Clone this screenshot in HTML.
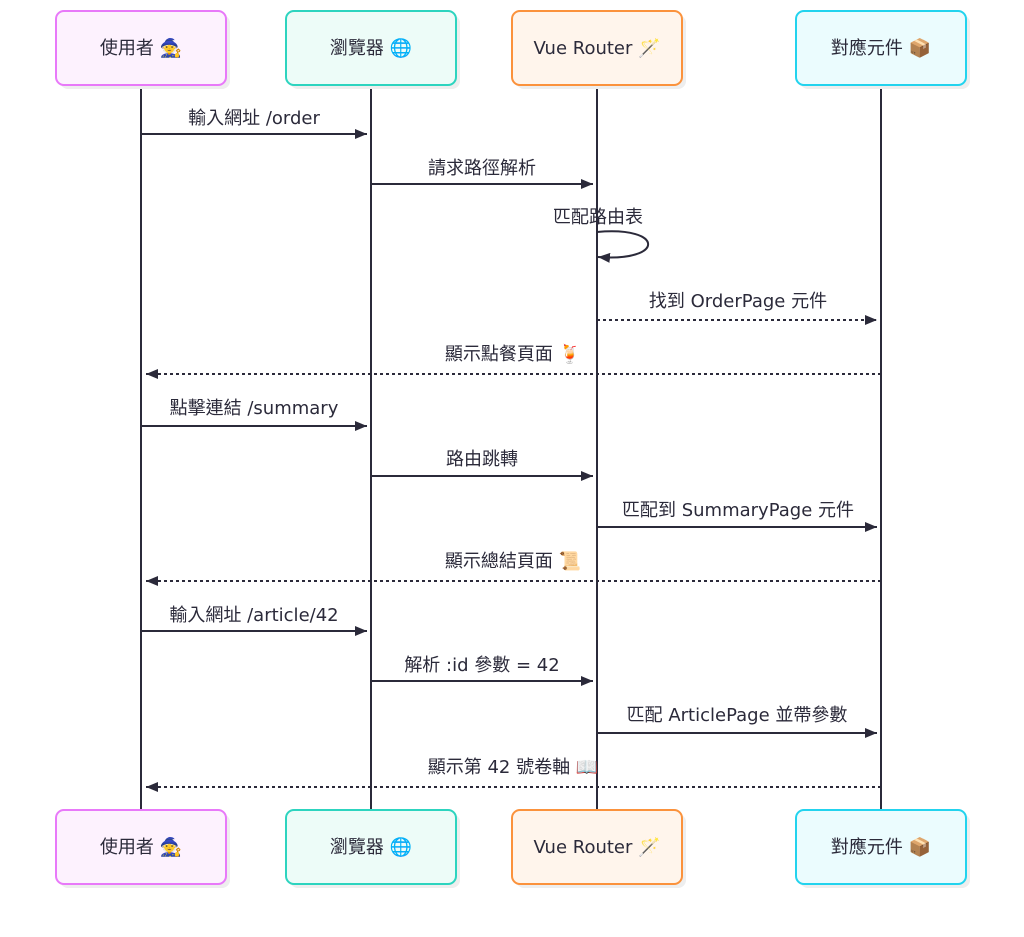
<!DOCTYPE html>
<html><head><meta charset="utf-8"><style>
html,body{margin:0;padding:0;background:#fff;}
svg text{font-family:"DejaVu Sans","Noto Sans CJK TC",sans-serif;font-size:18px;fill:#2b2a3a;}
</style></head><body>
<svg width="1024" height="932" viewBox="0 0 1024 932" xmlns="http://www.w3.org/2000/svg">
<defs>
<marker id="ar" markerWidth="12" markerHeight="10" refX="12" refY="5" orient="auto" markerUnits="userSpaceOnUse">
<path d="M0,0 L12,5 L0,10 z" fill="#2b2a3a"/></marker>
</defs>
<g stroke="#2b2a3a" stroke-width="2">
<line x1="141" y1="85" x2="141" y2="810"/>
<line x1="371" y1="85" x2="371" y2="810"/>
<line x1="597" y1="85" x2="597" y2="810"/>
<line x1="881" y1="85" x2="881" y2="810"/>
</g>
<g id="boxes">
<g fill="#eee"><rect x="60" y="15" width="170" height="74" rx="8"/><rect x="290" y="15" width="170" height="74" rx="8"/><rect x="516" y="15" width="170" height="74" rx="8"/><rect x="800" y="15" width="170" height="74" rx="8"/>
<rect x="60" y="814" width="170" height="74" rx="8"/><rect x="290" y="814" width="170" height="74" rx="8"/><rect x="516" y="814" width="170" height="74" rx="8"/><rect x="800" y="814" width="170" height="74" rx="8"/></g>
<g stroke-width="2">
<rect x="56" y="11" width="170" height="74" rx="8" fill="#fdf2fe" stroke="#e879f9"/>
<rect x="286" y="11" width="170" height="74" rx="8" fill="#edfcf8" stroke="#2dd4bf"/>
<rect x="512" y="11" width="170" height="74" rx="8" fill="#fff5ec" stroke="#fb923c"/>
<rect x="796" y="11" width="170" height="74" rx="8" fill="#ebfcfe" stroke="#22d3ee"/>
<rect x="56" y="810" width="170" height="74" rx="8" fill="#fdf2fe" stroke="#e879f9"/>
<rect x="286" y="810" width="170" height="74" rx="8" fill="#edfcf8" stroke="#2dd4bf"/>
<rect x="512" y="810" width="170" height="74" rx="8" fill="#fff5ec" stroke="#fb923c"/>
<rect x="796" y="810" width="170" height="74" rx="8" fill="#ebfcfe" stroke="#22d3ee"/>
</g>
<g text-anchor="middle">
<text x="141" y="54">使用者 🧙</text><text x="371" y="54">瀏覽器 🌐</text><text x="597" y="54">Vue Router 🪄</text><text x="881" y="54">對應元件 📦</text>
<text x="141" y="853">使用者 🧙</text><text x="371" y="853">瀏覽器 🌐</text><text x="597" y="853">Vue Router 🪄</text><text x="881" y="853">對應元件 📦</text>
</g>
</g>
<g stroke="#2b2a3a" stroke-width="2" fill="none" marker-end="url(#ar)">
<line x1="141" y1="134" x2="367" y2="134"/>
<line x1="371" y1="184" x2="593" y2="184"/>
<path d="M597,232 C665,226 665,262 598,257"/>
<line x1="597" y1="320" x2="877" y2="320" stroke-dasharray="3,3"/>
<line x1="881" y1="374" x2="146" y2="374" stroke-dasharray="3,3"/>
<line x1="141" y1="426" x2="367" y2="426"/>
<line x1="371" y1="476" x2="593" y2="476"/>
<line x1="597" y1="527" x2="877" y2="527"/>
<line x1="881" y1="581" x2="146" y2="581" stroke-dasharray="3,3"/>
<line x1="141" y1="631" x2="367" y2="631"/>
<line x1="371" y1="681" x2="593" y2="681"/>
<line x1="597" y1="733" x2="877" y2="733"/>
<line x1="881" y1="787" x2="146" y2="787" stroke-dasharray="3,3"/>
</g>
<g text-anchor="middle">
<text x="254" y="124">輸入網址 /order</text>
<text x="482" y="174">請求路徑解析</text>
<text x="598" y="223">匹配路由表</text>
<text x="738" y="307">找到 OrderPage 元件</text>
<text x="513" y="360">顯示點餐頁面 🍹</text>
<text x="254" y="414">點擊連結 /summary</text>
<text x="482" y="465">路由跳轉</text>
<text x="738" y="516">匹配到 SummaryPage 元件</text>
<text x="513" y="567">顯示總結頁面 📜</text>
<text x="254" y="621">輸入網址 /article/42</text>
<text x="482" y="671">解析 :id 參數 = 42</text>
<text x="737" y="721">匹配 ArticlePage 並帶參數</text>
<text x="513" y="773">顯示第 42 號卷軸 📖</text>
</g>
</svg>
</body></html>
